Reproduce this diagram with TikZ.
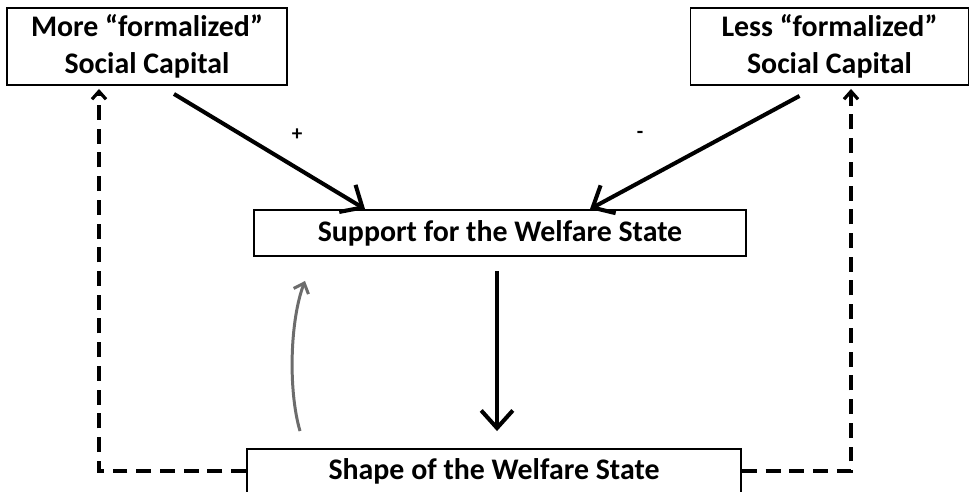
\documentclass[tikz,border=0pt]{standalone}
\usepackage{fontspec}
\setmainfont{Carlito}
\usepackage{tikz}
\usetikzlibrary{arrows.meta,calc}

\begin{document}
\begin{tikzpicture}[x=0.02cm, y=-0.02cm,
    box/.style={rectangle, draw, line width=1.1pt, fill=white, align=center, font=\fontsize{17}{21}\selectfont\bfseries},
    mainarrow/.style={line width=2.3pt, -{Straight Barb[length=10pt, width=18pt, line width=2.3pt]}},
    feedback/.style={line width=1.8pt, dash pattern=on 8.5pt off 5pt, -{Straight Barb[length=4.5pt, width=8pt, line width=1.8pt]}},
    grayarrow/.style={line width=1.7pt, gray!85!black, -{Straight Barb[length=5pt, width=9pt, line width=1.7pt]}}]
    \clip (0,0) rectangle (969,491);
    \useasboundingbox (0,0) rectangle (969,491);
    % Nodes
    \node (more) [box, minimum width=280*0.02cm, minimum height=77*0.02cm] at (147,46.5) {More ``formalized''\\Social Capital};
    \node (less) [box, minimum width=278*0.02cm, minimum height=77*0.02cm] at (829.5,46.5) {Less ``formalized''\\Social Capital};
    \node (support) [box, minimum width=492*0.02cm, minimum height=46*0.02cm] at (500,233) {Support for the Welfare State};
    \node (shape) [box, minimum width=494*0.02cm, minimum height=44*0.02cm] at (494,471) {Shape of the Welfare State};
    \node (plus) [font=\bfseries\large] at (297,135) {+};
    \node (minus) [font=\bfseries\large] at (640,135) {-};

    % Edges
    \draw[mainarrow] ($(more.south)+(27,8)$) -- ($(support.north)+(-135,0)$);
    \draw[mainarrow] ($(less.south)+(-30,10)$) -- ($(support.north)+(90,0)$);
    \draw[mainarrow] ($(support.south)+(-3,14)$) -- ($(shape.north)+(3,-17)$);
    \draw[grayarrow] ($(shape.north)+(-194,-17)$) .. controls (288,390) and (290,320) .. ($(support.south)+(-195,24)$);
    \draw[feedback] (shape.west) -| ($(more.south)+(-48,3)$);
    \draw[feedback] (shape.east) -| ($(less.south)+(21.5,3)$);
\end{tikzpicture}
\end{document}
